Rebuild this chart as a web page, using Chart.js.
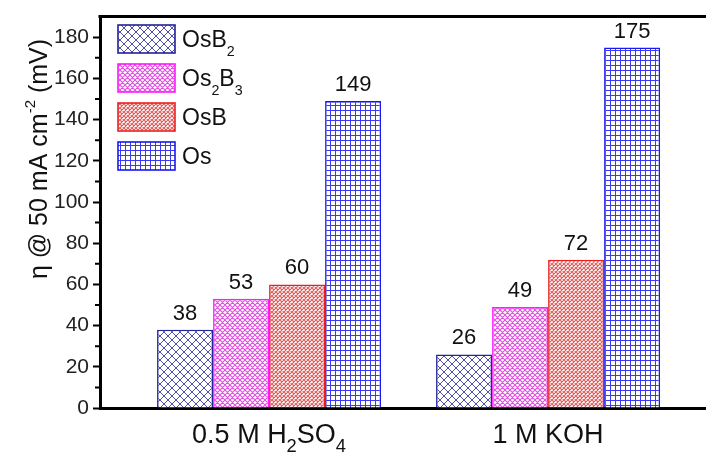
<!DOCTYPE html>
<html>
<head>
<meta charset="utf-8">
<script src="https://cdn.jsdelivr.net/npm/chart.js@4.4.1/dist/chart.umd.min.js"></script>
<style>
  html, body { margin: 0; padding: 0; background: #fff; }
  canvas { display: block; }
</style>
</head>
<body>
<canvas id="chart" width="706" height="454"></canvas>
<script>
// ── Data ──────────────────────────────────────────────────────
// '_x' marks a subscript character, '^{..}' a superscript
const categories  = ['0.5 M H_2SO_4', '1 M KOH'];
const seriesNames = ['OsB_2', 'Os_2B_3', 'OsB', 'Os'];
const osb2Values  = [38, 26];
const os2b3Values = [53, 49];
const osbValues   = [60, 72];
const osValues    = [149, 175];
const yTicks      = [0, 20, 40, 60, 80, 100, 120, 140, 160, 180];
const yMinorTicks = [10, 30, 50, 70, 90, 110, 130, 150, 170];
const yTitle      = 'η @ 50 mA cm^{-2} (mV)';

const FONT = '"Liberation Sans", Arimo, Arial, sans-serif';

// ── Hatch patterns ────────────────────────────────────────────
const makePattern = (size, color, kind, lw) => {
  const c = document.createElement('canvas');
  c.width = size; c.height = size;
  const g = c.getContext('2d');
  g.fillStyle = '#fff';
  g.fillRect(0, 0, size, size);
  g.strokeStyle = color;
  g.lineWidth = lw;
  g.beginPath();
  if (kind === 'grid') {
    g.moveTo(0, 0.5);  g.lineTo(size, 0.5);
    g.moveTo(0.5, 0);  g.lineTo(0.5, size);
  } else {
    for (const d of [-size, 0, size]) {
      g.moveTo(d, 0);        g.lineTo(d + size, size);
      g.moveTo(d, size);     g.lineTo(d + size, 0);
    }
  }
  g.stroke();
  return g.createPattern(c, 'repeat');
};

const fills = [
  makePattern(8, '#5050aa', 'cross', 1),
  makePattern(5, '#e050e0', 'cross', 1.1),
  makePattern(4, '#e06060', 'cross', 1.2),
  makePattern(5, '#3a3aee', 'grid', 1)
];
const borders = ['#22229a', '#ff1aff', '#ee2020', '#1a1aee'];
const seriesValues = [osb2Values, os2b3Values, osbValues, osValues];

// ── Rich text (sub / superscripts) ────────────────────────────
const parseRich = (s) => {
  const parts = [];
  let i = 0;
  while (i < s.length) {
    if (s[i] === '_') {
      parts.push({ t: s[i + 1], mode: 'sub' });
      i += 2;
    } else if (s[i] === '^') {
      const end = s.indexOf('}', i);
      parts.push({ t: s.slice(i + 2, end), mode: 'sup' });
      i = end + 1;
    } else {
      const last = parts[parts.length - 1];
      if (last && last.mode === 'n') last.t += s[i];
      else parts.push({ t: s[i], mode: 'n' });
      i++;
    }
  }
  return parts;
};

const drawRich = (ctx, str, x, y, size, align, opt = {}) => {
  const subScale = opt.subScale || 0.65;
  const subDrop  = opt.subDrop  || 0.35;
  const supRise  = opt.supRise  || 0.45;
  const parts = parseRich(str);
  const fontFor = p => (p.mode === 'n' ? size : size * subScale) + 'px ' + FONT;
  let total = 0;
  parts.forEach(p => { ctx.font = fontFor(p); p.w = ctx.measureText(p.t).width; total += p.w; });
  let cx = align === 'center' ? x - total / 2 : align === 'right' ? x - total : x;
  ctx.textAlign = 'left';
  ctx.textBaseline = 'alphabetic';
  parts.forEach(p => {
    ctx.font = fontFor(p);
    let dy = 0;
    if (p.mode === 'sub') dy = size * subDrop;
    if (p.mode === 'sup') dy = -size * supRise;
    ctx.fillText(p.t, cx, y + dy);
    cx += p.w;
  });
};

// ── Decorations plugin ────────────────────────────────────────
const decorPlugin = {
  id: 'decor',
  afterDatasetsDraw(chart) {
    const ctx = chart.ctx;
    ctx.save();
    ctx.fillStyle = '#111';
    ctx.font = '22px ' + FONT;
    ctx.textAlign = 'center';
    ctx.textBaseline = 'alphabetic';
    chart.data.datasets.forEach((ds, di) => {
      chart.getDatasetMeta(di).data.forEach((el, i) => {
        ctx.fillText(String(ds.data[i].y), el.x, el.y - 10);
      });
    });
    ctx.restore();
  },
  afterDraw(chart) {
    const ctx = chart.ctx;
    const area = chart.chartArea;
    const xs = chart.scales.x;
    const ys = chart.scales.y;
    ctx.save();

    // top frame line
    ctx.strokeStyle = '#000';
    ctx.lineWidth = 3;
    ctx.beginPath();
    ctx.moveTo(area.left - 1.5, area.top);
    ctx.lineTo(chart.width, area.top);
    ctx.stroke();

    // minor ticks on the y axis
    ctx.lineWidth = 2;
    ctx.beginPath();
    yMinorTicks.forEach(v => {
      const py = ys.getPixelForValue(v);
      ctx.moveTo(area.left - 5, py);
      ctx.lineTo(area.left, py);
    });
    ctx.stroke();

    // category labels
    ctx.fillStyle = '#111';
    categories.forEach((c, i) => {
      drawRich(ctx, c, xs.getPixelForValue(i + 1), 443, 27, 'center', { subScale: 0.68, subDrop: 0.33 });
    });

    // y axis title
    ctx.save();
    ctx.translate(47, 159);
    ctx.rotate(-Math.PI / 2);
    drawRich(ctx, yTitle, 0, 0, 25, 'center', { subScale: 0.6, supRise: 0.5 });
    ctx.restore();

    // legend
    seriesNames.forEach((name, i) => {
      const top = 25 + i * 39;
      ctx.fillStyle = fills[i];
      ctx.fillRect(118, top, 57, 28);
      ctx.strokeStyle = borders[i];
      ctx.lineWidth = 1.6;
      ctx.strokeRect(118, top, 57, 28);
      ctx.fillStyle = '#111';
      drawRich(ctx, name, 182, top + 22, 23, 'left', { subScale: 0.62, subDrop: 0.4 });
    });

    ctx.restore();
  }
};

// ── Chart ─────────────────────────────────────────────────────
const datasets = seriesNames.map((name, i) => ({
  label: name,
  data: seriesValues[i].map((v, j) => ({ x: j + 1, y: v })),
  backgroundColor: fills[i],
  borderColor: borders[i],
  borderWidth: 1.6,
  categoryPercentage: 0.803,
  barPercentage: 1
}));

new Chart(document.getElementById('chart'), {
  type: 'bar',
  data: { datasets },
  options: {
    responsive: false,
    animation: false,
    devicePixelRatio: 1,
    layout: { padding: { top: 13, right: 0, left: 0, bottom: 0 } },
    plugins: {
      legend:  { display: false },
      tooltip: { enabled: false }
    },
    scales: {
      x: {
        type: 'linear',
        offset: false,
        min: 0.394,
        max: 2.566,
        afterBuildTicks: (s) => { s.ticks = categories.map((c, i) => ({ value: i + 1 })); },
        afterFit: (s) => { s.height = 46; },
        ticks: { display: false },
        grid:  { display: false, drawTicks: false, offset: false },
        border: { color: '#000', width: 3 }
      },
      y: {
        min: 0,
        max: 190,
        afterBuildTicks: (s) => { s.ticks = yTicks.map(v => ({ value: v })); },
        afterFit: (s) => { s.width = 100; },
        ticks: {
          color: '#222',
          font: { family: FONT, size: 21 },
          padding: 4
        },
        grid: {
          drawOnChartArea: false,
          tickLength: 7,
          tickWidth: 2,
          tickColor: '#000'
        },
        border: { color: '#000', width: 3 }
      }
    }
  },
  plugins: [decorPlugin]
});
</script>
</body>
</html>
